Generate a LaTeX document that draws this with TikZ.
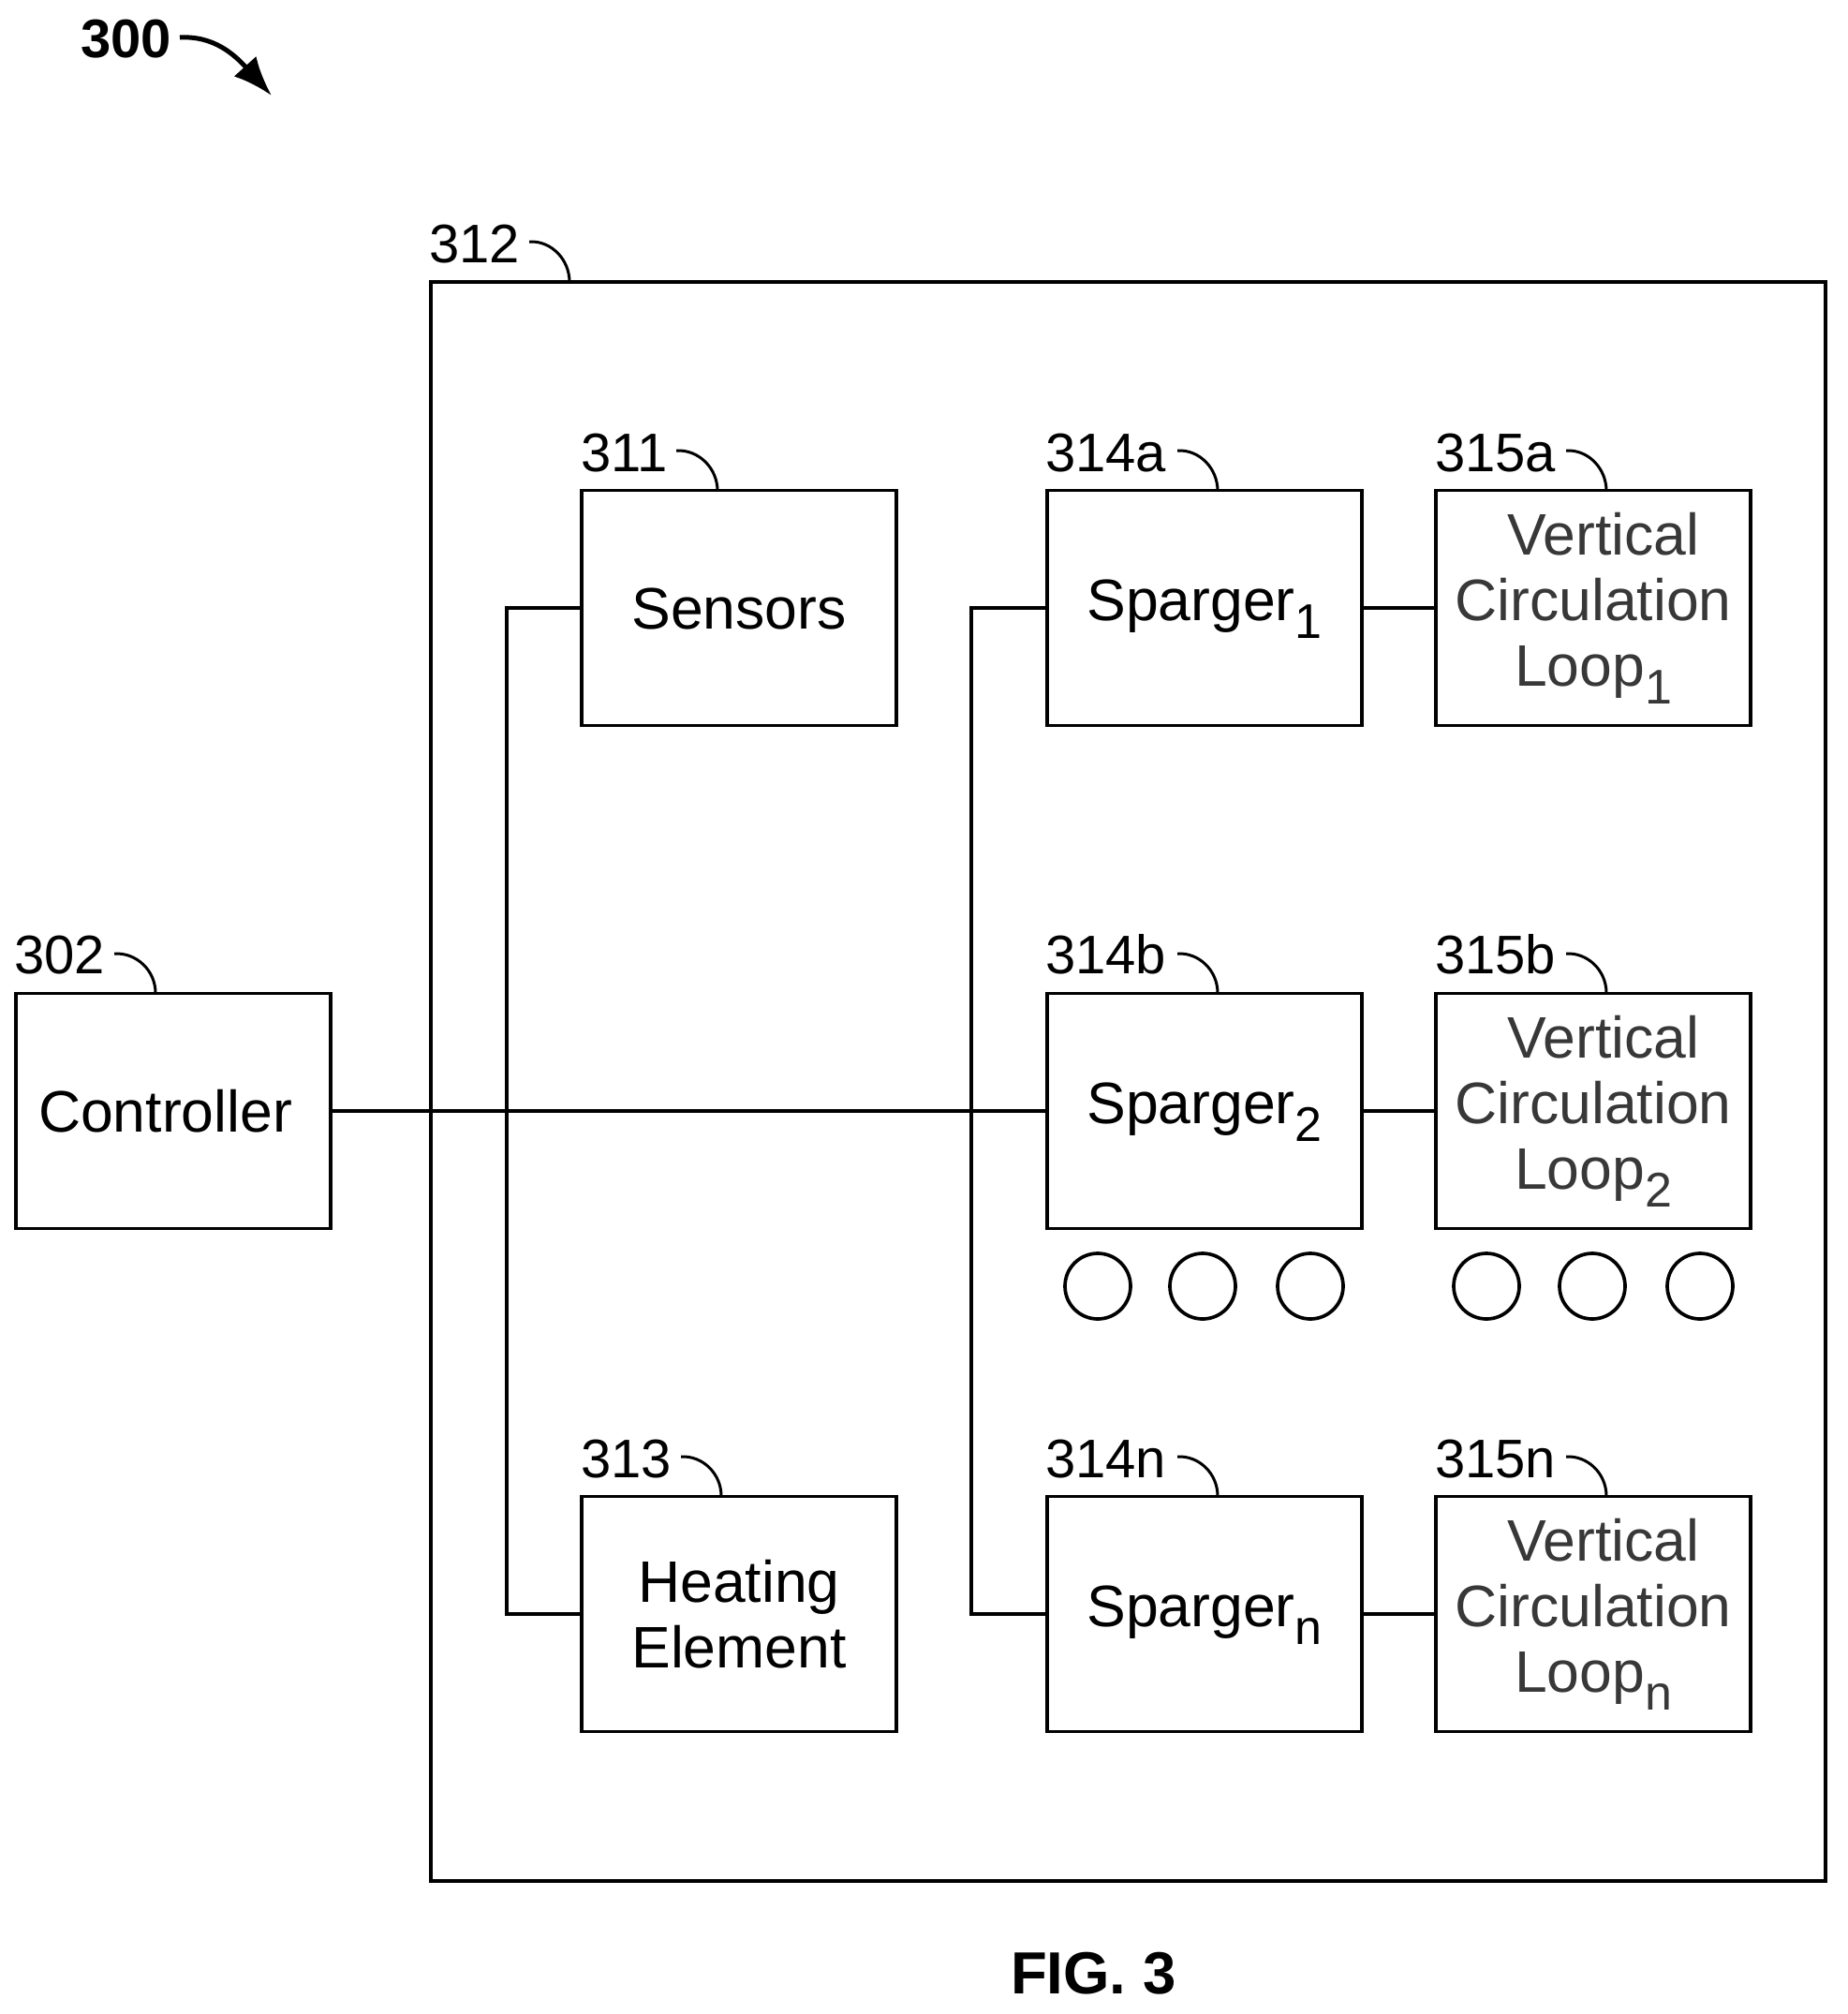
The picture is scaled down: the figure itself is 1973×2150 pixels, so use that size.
\documentclass[tikz,border=0pt]{standalone}
\usepackage{fontspec}
\setmainfont{Liberation Sans}
\usetikzlibrary{arrows.meta}
\newcommand{\myfsub}[1]{\raisebox{-19pt}{\fontsize{52}{52}\selectfont #1}}
\tikzset{
  x=1pt,y=-1pt,
  box/.style={draw,line width=3.7pt,rectangle,minimum width=336pt,minimum height=251pt,inner sep=0pt,outer sep=0pt,
     align=center,font=\fontsize{62.5}{70}\selectfont},
  onel/.style={box,text height=46pt,text depth=20pt},
  vcl/.style={box,text=black!78,text height=188pt,text depth=22pt},
  lbl/.style={anchor=base west,inner sep=0pt,outer sep=0pt,font=\fontsize{58}{60}\selectfont},
  wire/.style={line width=3.7pt},
  hookline/.style={line width=3pt},
  dot/.style={draw,circle,line width=3.7pt,minimum size=70pt,inner sep=0pt},
}
\begin{document}
\begin{tikzpicture}
\useasboundingbox (0,0) rectangle (1973,2150);
% outer
\node[draw,line width=4.6pt,rectangle,minimum width=1489pt,minimum height=1707pt,inner sep=0pt,outer sep=0pt] (outer) at (1204.5,1154.5) {};
% boxes
\node[onel,text height=50pt,text depth=6pt] (ctrl) at (185,1186) {Controller\hspace*{17pt}};
\node[onel,text height=48pt,text depth=4pt] (sens) at (789,649) {Sensors};
\node[box,text height=122pt,text depth=8pt] (heat) at (789,1723) {Heating\\Element};
\node[onel] (sp1) at (1286,649) {Sparger\myfsub{1}};
\node[onel] (sp2) at (1286,1186) {Sparger\myfsub{2}};
\node[onel] (spn) at (1286,1723) {Sparger\myfsub{n}};
\node[vcl] (vc1) at (1701,649) {\hspace*{22pt}Vertical\\Circulation\\Loop\myfsub{1}};
\node[vcl] (vc2) at (1701,1186) {\hspace*{22pt}Vertical\\Circulation\\Loop\myfsub{2}};
\node[vcl] (vcn) at (1701,1723) {\hspace*{22pt}Vertical\\Circulation\\Loop\myfsub{n}};
% wires
\coordinate (busL) at (541,1186);
\coordinate (busR) at (1037,1186);
\draw[wire] (ctrl.east) -- (sp2.west);
\draw[wire] (sens.west) -| (busL) |- (heat.west);
\draw[wire] (sp1.west) -| (busR) |- (spn.west);
\draw[wire] (sp1.east) -- (vc1.west);
\draw[wire] (sp2.east) -- (vc2.west);
\draw[wire] (spn.east) -- (vcn.west);
% dots
\node[dot] (d1) at (1172,1373) {};
\node[dot] (d2) at (1284,1373) {};
\node[dot] (d3) at (1399,1373) {};
\node[dot] (d4) at (1587,1373) {};
\node[dot] (d5) at (1700,1373) {};
\node[dot] (d6) at (1815,1373) {};
% labels
\node[lbl] (l312) at (458,280) {312};
\node[lbl] (l311) at (620,503) {311};
\node[lbl] (l313) at (620,1577) {313};
\node[lbl] (l302) at (15,1039) {302};
\node[lbl] (l314a) at (1116,503) {314a};
\node[lbl] (l314b) at (1116,1039) {314b};
\node[lbl] (l314n) at (1116,1577) {314n};
\node[lbl] (l315a) at (1532,503) {315a};
\node[lbl] (l315b) at (1532,1039) {315b};
\node[lbl] (l315n) at (1532,1577) {315n};
% hooks
\draw[hookline] (565,258) to[out=3,in=90] (608,301);
\draw[hookline] (722,481) to[out=3,in=90] (766,524);
\draw[hookline] (727,1555) to[out=3,in=90] (770,1597);
\draw[hookline] (122,1018) to[out=3,in=90] (166,1060);
\draw[hookline] (1257,481) to[out=3,in=90] (1300,524);
\draw[hookline] (1257,1018) to[out=3,in=90] (1300,1060);
\draw[hookline] (1257,1555) to[out=3,in=90] (1300,1597);
\draw[hookline] (1672,481) to[out=3,in=90] (1715,524);
\draw[hookline] (1672,1018) to[out=3,in=90] (1715,1060);
\draw[hookline] (1672,1555) to[out=3,in=90] (1715,1597);
% title
\node[lbl,font=\bfseries\fontsize{58}{60}\selectfont] (l300) at (86,61) {300};
\coordinate (a300s) at (192,40);
\coordinate (a300e) at (290,102);
\draw[line width=5pt,-{Latex[length=42pt,width=32pt]}] (a300s) .. controls (228,38) and (250,58) .. (a300e);
\node[lbl,font=\bfseries\fontsize{63.5}{66}\selectfont] (fig) at (1079,2128) {FIG. 3};
\end{tikzpicture}
\end{document}
